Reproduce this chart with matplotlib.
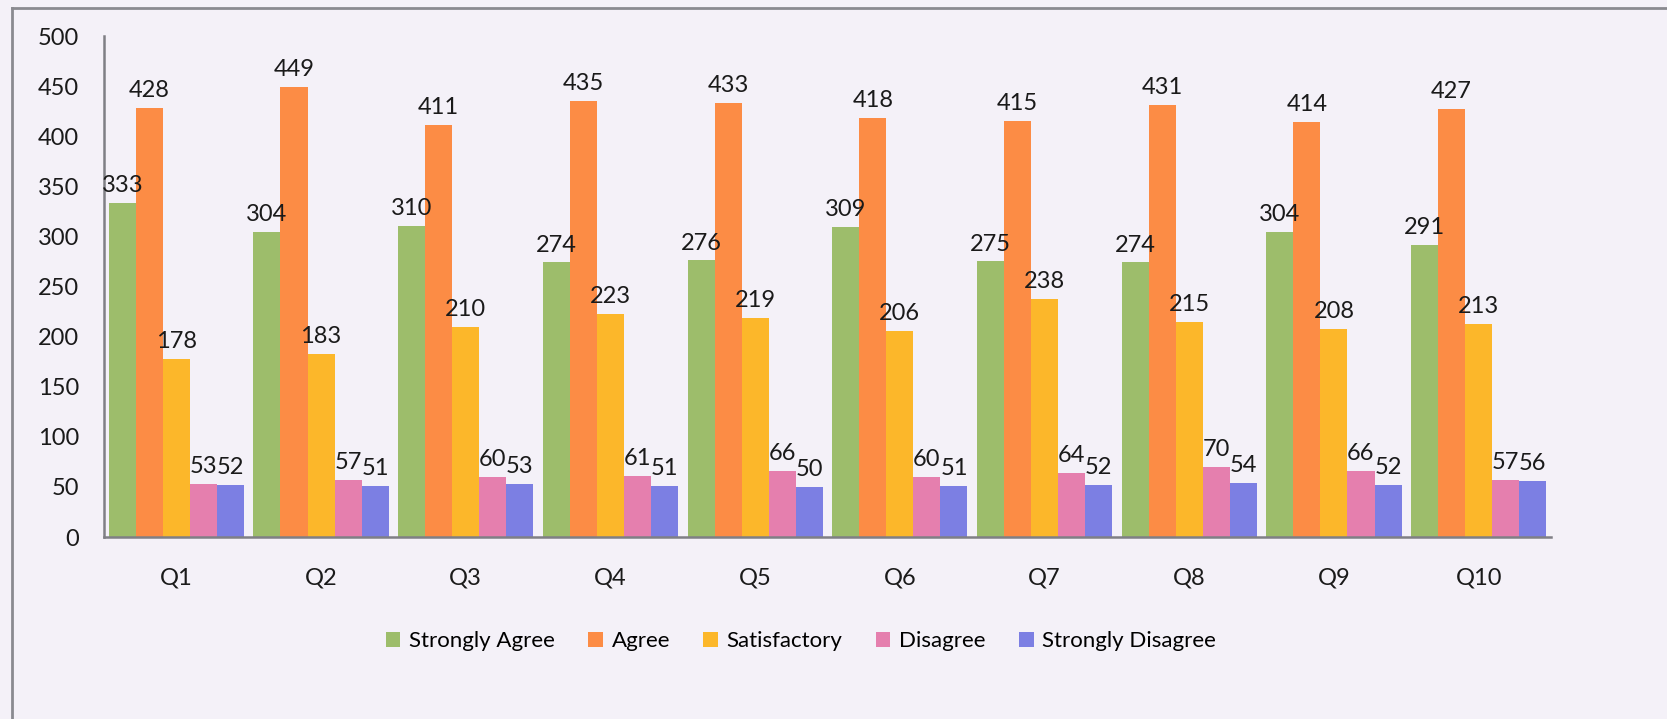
import matplotlib
matplotlib.use("Agg")
import matplotlib.pyplot as plt
import numpy as np
from matplotlib.lines import Line2D

categories = ["Q1", "Q2", "Q3", "Q4", "Q5", "Q6", "Q7", "Q8", "Q9", "Q10"]
series_names = ["Strongly Agree", "Agree", "Satisfactory", "Disagree", "Strongly Disagree"]
strongly_agree = [333, 304, 310, 274, 276, 309, 275, 274, 304, 291]
agree = [428, 449, 411, 435, 433, 418, 415, 431, 414, 427]
satisfactory = [178, 183, 210, 223, 219, 206, 238, 215, 208, 213]
disagree = [53, 57, 60, 61, 66, 60, 64, 70, 66, 57]
strongly_disagree = [52, 51, 53, 51, 50, 51, 52, 54, 52, 56]
y_ticks = [0, 50, 100, 150, 200, 250, 300, 350, 400, 450, 500]

series = [strongly_agree, agree, satisfactory, disagree, strongly_disagree]
colors = ["#9dbd6b", "#fc8c45", "#fcb72a", "#e57fae", "#7c7fe3"]

bg = "#f4f1f8"
plt.rcParams['font.family'] = ['Lato', 'DejaVu Sans']

fig = plt.figure(figsize=(16.67, 7.19), dpi=100, facecolor=bg)
ax = fig.add_axes([0.0624, 0.2531, 0.868, 0.6968])
ax.set_facecolor(bg)

x = np.arange(len(categories))
bw = 0.187
for i, (vals, name, c) in enumerate(zip(series, series_names, colors)):
    offs = (i - 2) * bw
    ax.bar(x + offs, vals, bw, color=c, label=name, linewidth=0)
    for xi, v in zip(x + offs, vals):
        ax.annotate(str(v), (xi, v), xytext=(0, 5), textcoords="offset points",
                    ha="center", va="bottom", fontsize=17, color="#1a1a1a")

ax.set_xlim(-0.5, len(categories) - 0.5)
ax.set_ylim(0, 500)
ax.set_yticks(y_ticks)
ax.set_xticks(x)
ax.set_xticklabels(categories)
ax.tick_params(axis="both", length=0, labelsize=17, colors="#1a1a1a")
ax.tick_params(axis="y", pad=18)
ax.tick_params(axis="x", pad=22)
for s in ["top", "right"]:
    ax.spines[s].set_visible(False)
for s in ["left", "bottom"]:
    ax.spines[s].set_color("#7f7f85")
    ax.spines[s].set_linewidth(1.8)

fig.legend(loc="center", bbox_to_anchor=(0.4805, 0.108), ncol=5, frameon=False,
           fontsize=16, handlelength=0.65, handleheight=0.65, handletextpad=0.4,
           columnspacing=1.5)

# outer border
fig.add_artist(Line2D([12/1667, 12/1667], [0, 1 - 8/719], transform=fig.transFigure,
                      color="#8a8a90", linewidth=2))
fig.add_artist(Line2D([12/1667, 1], [1 - 8/719, 1 - 8/719], transform=fig.transFigure,
                      color="#8a8a90", linewidth=2))

fig.savefig("out.png", dpi=100, facecolor=bg)
